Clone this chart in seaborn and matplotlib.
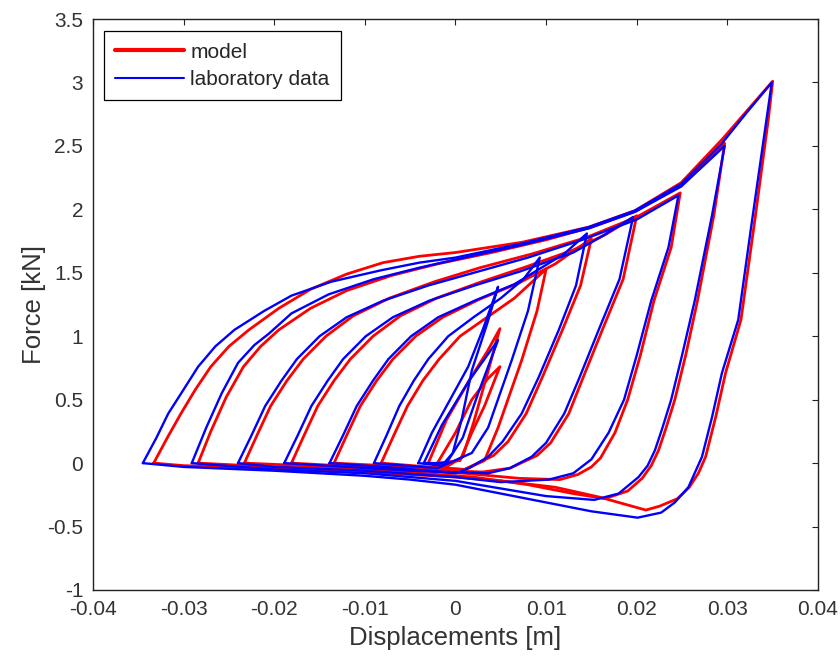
import pandas as pd
import matplotlib.pyplot as plt
import seaborn as sns
from matplotlib.lines import Line2D

# hysteresis loops: (displacement [m], force [kN])
# model (red)
model_a35 = [(-0.0333, 0.00), (-0.0318, 0.20), (-0.0303, 0.39), (-0.0287, 0.58), (-0.0270, 0.76),
             (-0.0250, 0.92), (-0.0228, 1.05), (-0.0195, 1.22), (-0.0160, 1.37), (-0.0120, 1.49),
             (-0.0080, 1.58), (-0.0040, 1.63), (0.0000, 1.66), (0.0073, 1.74), (0.0147, 1.86),
             (0.0198, 1.99), (0.0249, 2.21), (0.0294, 2.55), (0.0322, 2.78), (0.0350, 3.01),
             (0.0345, 2.70), (0.0330, 1.90), (0.0315, 1.13), (0.0298, 0.71), (0.0287, 0.36),
             (0.0276, 0.05), (0.0268, -0.08), (0.0258, -0.19), (0.0245, -0.28), (0.0225, -0.34),
             (0.0210, -0.37), (0.0160, -0.27), (0.0110, -0.19), (0.0050, -0.14), (0.0000, -0.11),
             (-0.0100, -0.07), (-0.0200, -0.04), (-0.0300, -0.02), (-0.0333, 0.00)]
model_a30 = [(-0.0284, 0.00), (-0.0270, 0.25), (-0.0253, 0.52), (-0.0234, 0.76), (-0.0215, 0.92),
             (-0.0195, 1.05), (-0.0160, 1.22), (-0.0120, 1.36), (-0.0070, 1.48), (-0.0020, 1.57),
             (0.0040, 1.66), (0.0100, 1.76), (0.0150, 1.86), (0.0200, 1.99), (0.0250, 2.20),
             (0.0297, 2.52), (0.0285, 1.95), (0.0267, 1.28), (0.0254, 0.85), (0.0242, 0.50),
             (0.0232, 0.27), (0.0224, 0.10), (0.0216, -0.02), (0.0206, -0.12), (0.0190, -0.22),
             (0.0165, -0.28), (0.0130, -0.24), (0.0080, -0.17), (0.0020, -0.11), (-0.0080, -0.06),
             (-0.0200, -0.03), (-0.0284, 0.00)]
model_a25 = [(-0.0233, 0.00), (-0.0219, 0.22), (-0.0204, 0.45), (-0.0186, 0.65), (-0.0168, 0.82),
             (-0.0143, 1.00), (-0.0113, 1.16), (-0.0073, 1.30), (-0.0023, 1.43), (0.0027, 1.54),
             (0.0085, 1.65), (0.0145, 1.78), (0.0200, 1.94), (0.0248, 2.13), (0.0238, 1.70),
             (0.0219, 1.28), (0.0204, 0.85), (0.0190, 0.50), (0.0176, 0.24), (0.0160, 0.04),
             (0.0150, -0.03), (0.0135, -0.09), (0.0115, -0.13), (0.0070, -0.12), (0.0010, -0.08),
             (-0.0100, -0.04), (-0.0233, 0.00)]
model_a20 = [(-0.0181, 0.00), (-0.0167, 0.22), (-0.0152, 0.45), (-0.0134, 0.65), (-0.0116, 0.82),
             (-0.0091, 1.00), (-0.0061, 1.16), (-0.0021, 1.30), (0.0029, 1.43), (0.0079, 1.55),
             (0.0130, 1.68), (0.0165, 1.80), (0.0200, 1.95), (0.0185, 1.45), (0.0162, 1.05),
             (0.0140, 0.66), (0.0125, 0.39), (0.0105, 0.16), (0.0090, 0.06), (0.0060, -0.04),
             (0.0030, -0.07), (-0.0050, -0.05), (-0.0181, 0.00)]
model_a15 = [(-0.0134, 0.00), (-0.0120, 0.22), (-0.0105, 0.45), (-0.0087, 0.65), (-0.0069, 0.82),
             (-0.0044, 1.00), (-0.0014, 1.15), (0.0026, 1.29), (0.0070, 1.42), (0.0110, 1.57),
             (0.0150, 1.77), (0.0138, 1.40), (0.0118, 1.05), (0.0096, 0.68), (0.0078, 0.39),
             (0.0058, 0.17), (0.0042, 0.06), (0.0010, -0.05), (-0.0050, -0.03), (-0.0134, 0.00)]
model_a10 = [(-0.0082, 0.00), (-0.0068, 0.22), (-0.0053, 0.45), (-0.0036, 0.65), (-0.0018, 0.82),
             (0.0005, 1.00), (0.0035, 1.15), (0.0065, 1.30), (0.0100, 1.53), (0.0090, 1.20),
             (0.0073, 0.81), (0.0047, 0.28), (0.0032, 0.02), (0.0010, -0.05), (-0.0030, -0.03),
             (-0.0082, 0.00)]
model_a5a = [(-0.0030, 0.00), (-0.0010, 0.34), (0.0015, 0.65), (0.0035, 0.88), (0.0049, 1.06),
             (0.0035, 0.70), (0.0020, 0.32), (0.0008, 0.05), (-0.0010, -0.03), (-0.0030, 0.00)]
model_a5b = [(-0.0020, 0.00), (0.0000, 0.24), (0.0018, 0.50), (0.0035, 0.66), (0.0049, 0.76),
             (0.0032, 0.45), (0.0018, 0.24), (0.0005, 0.02), (-0.0020, 0.00)]

# laboratory data (blue)
lab_a35 = [(-0.0345, 0.00), (-0.0330, 0.20), (-0.0317, 0.39), (-0.0300, 0.58), (-0.0284, 0.76),
           (-0.0265, 0.92), (-0.0244, 1.05), (-0.0211, 1.20), (-0.0181, 1.32), (-0.0137, 1.43),
           (-0.0082, 1.52), (-0.0040, 1.58), (0.0000, 1.62), (0.0073, 1.73), (0.0147, 1.86),
           (0.0198, 1.99), (0.0249, 2.20), (0.0294, 2.52), (0.0321, 2.76), (0.0349, 3.00),
           (0.0343, 2.70), (0.0327, 1.90), (0.0312, 1.13), (0.0294, 0.71), (0.0283, 0.36),
           (0.0272, 0.05), (0.0257, -0.19), (0.0242, -0.31), (0.0227, -0.39), (0.0201, -0.43),
           (0.0150, -0.38), (0.0100, -0.31), (0.0050, -0.24), (0.0000, -0.17), (-0.0050, -0.13),
           (-0.0100, -0.10), (-0.0200, -0.06), (-0.0300, -0.03), (-0.0345, 0.00)]
lab_a30 = [(-0.0291, 0.00), (-0.0275, 0.28), (-0.0258, 0.55), (-0.0240, 0.79), (-0.0222, 0.93),
           (-0.0206, 1.02), (-0.0181, 1.18), (-0.0140, 1.33), (-0.0090, 1.45), (-0.0040, 1.54),
           (0.0010, 1.62), (0.0073, 1.72), (0.0147, 1.85), (0.0198, 1.98), (0.0249, 2.18),
           (0.0297, 2.50), (0.0283, 1.95), (0.0264, 1.28), (0.0250, 0.85), (0.0238, 0.50),
           (0.0228, 0.27), (0.0220, 0.10), (0.0212, -0.02), (0.0202, -0.11), (0.0180, -0.24),
           (0.0153, -0.29), (0.0100, -0.26), (0.0050, -0.20), (0.0000, -0.14), (-0.0100, -0.08),
           (-0.0200, -0.05), (-0.0291, 0.00)]
lab_a25 = [(-0.0240, 0.00), (-0.0225, 0.22), (-0.0210, 0.45), (-0.0192, 0.65), (-0.0175, 0.82),
           (-0.0150, 1.00), (-0.0120, 1.15), (-0.0080, 1.28), (-0.0030, 1.40), (0.0020, 1.50),
           (0.0080, 1.62), (0.0140, 1.76), (0.0200, 1.92), (0.0246, 2.11), (0.0235, 1.70),
           (0.0216, 1.28), (0.0200, 0.85), (0.0186, 0.50), (0.0169, 0.24), (0.0150, 0.03),
           (0.0130, -0.08), (0.0103, -0.13), (0.0050, -0.15), (0.0000, -0.11), (-0.0100, -0.06),
           (-0.0200, -0.03), (-0.0240, 0.00)]
lab_a20 = [(-0.0189, 0.00), (-0.0174, 0.22), (-0.0159, 0.45), (-0.0141, 0.65), (-0.0124, 0.82),
           (-0.0099, 1.00), (-0.0069, 1.15), (-0.0029, 1.28), (0.0021, 1.40), (0.0071, 1.51),
           (0.0130, 1.66), (0.0160, 1.78), (0.0196, 1.94), (0.0181, 1.45), (0.0158, 1.05),
           (0.0136, 0.66), (0.0120, 0.39), (0.0100, 0.16), (0.0084, 0.05), (0.0060, -0.04),
           (0.0036, -0.08), (-0.0050, -0.06), (-0.0189, 0.00)]
lab_a15 = [(-0.0139, 0.00), (-0.0124, 0.22), (-0.0109, 0.45), (-0.0091, 0.65), (-0.0074, 0.82),
           (-0.0049, 1.00), (-0.0019, 1.15), (0.0021, 1.28), (0.0065, 1.41), (0.0120, 1.65),
           (0.0145, 1.81), (0.0133, 1.40), (0.0114, 1.05), (0.0092, 0.68), (0.0073, 0.39),
           (0.0052, 0.17), (0.0036, 0.05), (0.0015, -0.04), (0.0000, -0.08), (-0.0060, -0.04),
           (-0.0139, 0.00)]
lab_a10 = [(-0.0090, 0.00), (-0.0076, 0.22), (-0.0062, 0.45), (-0.0046, 0.65), (-0.0030, 0.82),
           (-0.0008, 1.00), (0.0020, 1.15), (0.0050, 1.30), (0.0075, 1.45), (0.0093, 1.62),
           (0.0080, 1.20), (0.0062, 0.81), (0.0036, 0.28), (0.0018, 0.08), (-0.0020, -0.04),
           (-0.0090, 0.00)]
lab_a5a = [(-0.0041, 0.00), (-0.0026, 0.24), (-0.0006, 0.50), (0.0014, 0.76), (0.0030, 1.05),
           (0.0047, 1.39), (0.0035, 1.10), (0.0018, 0.73), (0.0007, 0.35), (-0.0003, 0.08),
           (-0.0015, -0.02), (-0.0041, 0.00)]
lab_a5b = [(-0.0035, 0.00), (-0.0015, 0.30), (0.0015, 0.65), (0.0047, 0.97), (0.0025, 0.55),
           (0.0008, 0.20), (-0.0010, 0.00), (-0.0035, 0.00)]

x_ticks = [-0.04, -0.03, -0.02, -0.01, 0, 0.01, 0.02, 0.03, 0.04]
x_tick_labels = ['-0.04', '-0.03', '-0.02', '-0.01', '0', '0.01', '0.02', '0.03', '0.04']
y_ticks = [-1, -0.5, 0, 0.5, 1, 1.5, 2, 2.5, 3, 3.5]
y_tick_labels = ['-1', '-0.5', '0', '0.5', '1', '1.5', '2', '2.5', '3', '3.5']

loops = {
    'model': [model_a35, model_a30, model_a25, model_a20, model_a15, model_a10, model_a5a, model_a5b],
    'laboratory data': [lab_a35, lab_a30, lab_a25, lab_a20, lab_a15, lab_a10, lab_a5a, lab_a5b],
}
rows = []
for series, curves in loops.items():
    for i, pts in enumerate(curves):
        for x, y in pts:
            rows.append({'x': x, 'y': y, 'series': series, 'loop': f'{series}_{i}'})
df = pd.DataFrame(rows)

sns.set_theme(style='white')
plt.rcParams['font.family'] = ['Liberation Sans', 'DejaVu Sans']

fig = plt.figure(figsize=(8.4, 6.57), dpi=100)
ax = fig.add_axes([0.1107, 0.102, 0.8631, 0.869])

colors = {'model': '#ff0000', 'laboratory data': '#0000ff'}
sns.lineplot(data=df, x='x', y='y', hue='series', hue_order=['model', 'laboratory data'],
             size='series', sizes={'model': 2.0, 'laboratory data': 1.7},
             units='loop', estimator=None, sort=False, palette=colors, legend=False, ax=ax)

ax.set_xlim(-0.04, 0.04)
ax.set_ylim(-1, 3.5)
ax.set_xticks(x_ticks)
ax.set_xticklabels(x_tick_labels)
ax.set_yticks(y_ticks)
ax.set_yticklabels(y_tick_labels)
ax.tick_params(direction='in', length=4.5, width=0.8, top=True, right=True,
               labelsize=15, labelcolor='#333333', color='#222222', pad=7)
for sp in ax.spines.values():
    sp.set_color('#222222')
    sp.set_linewidth(1.0)

ax.set_xlabel('Displacements [m]', fontsize=18.5, color='#333333', labelpad=5)
ax.set_ylabel('Force [kN]', fontsize=18.5, color='#333333', labelpad=1)

handles = [Line2D([], [], color=colors['model'], lw=3),
           Line2D([], [], color=colors['laboratory data'], lw=1.5)]
leg = ax.legend(handles, ['model', 'laboratory data'], loc='upper left',
                bbox_to_anchor=(0.0152, 0.979), borderaxespad=0, fontsize=15,
                handlelength=3.3, handletextpad=0.3, borderpad=0.55, labelspacing=0.4,
                fancybox=False, framealpha=1)
leg.get_frame().set_edgecolor('black')
leg.get_frame().set_linewidth(0.9)

plt.savefig('out.png', dpi=100)
